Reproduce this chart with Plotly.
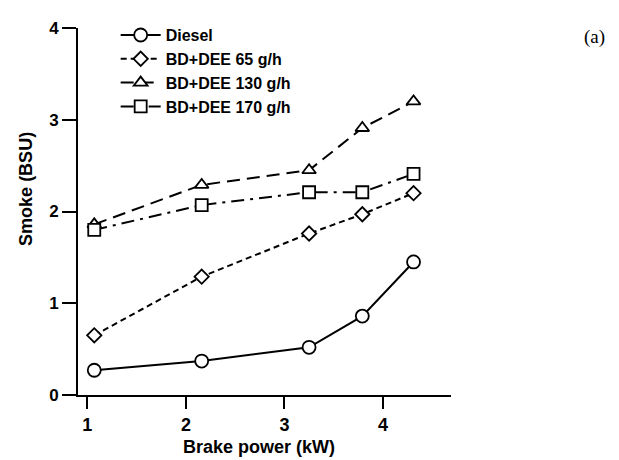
import plotly.graph_objects as go

power = [1.07, 2.16, 3.25, 3.79, 4.31]
diesel = [0.27, 0.37, 0.52, 0.86, 1.45]
dee65 = [0.65, 1.29, 1.76, 1.97, 2.20]
dee130 = [1.86, 2.29, 2.45, 2.91, 3.20]
dee170 = [1.80, 2.07, 2.21, 2.21, 2.41]

names = ["Diesel", "BD+DEE 65 g/h", "BD+DEE 130 g/h", "BD+DEE 170 g/h"]
series = [diesel, dee65, dee130, dee170]
dashes = ["solid", "6px,4px", "13px,7px", "13px,6px,3px,6px"]
symbols = ["circle", "diamond", "triangle-up", "square"]
sizes = [13, 11, 12, 12]

fig = go.Figure()
for n, s, d, sym, sz in zip(names, series, dashes, symbols, sizes):
    fig.add_trace(go.Scatter(
        x=power, y=s, name=n, mode="lines+markers",
        line=dict(color="black", width=2, dash=d),
        marker=dict(symbol=sym, size=sz, color="white",
                    line=dict(color="black", width=1.8)),
    ))

fam = "Liberation Sans, Arial"
xfont = dict(family=fam, size=18, color="black", weight="bold")
yfont = dict(family=fam, size=17, color="black", weight="bold")
fig.update_layout(
    width=611, height=452,
    margin=dict(l=70, r=168, t=10, b=65),
    paper_bgcolor="white", plot_bgcolor="white",
    showlegend=True,
    legend=dict(x=0.101, y=1.027, xanchor="left", yanchor="top",
                bgcolor="rgba(0,0,0,0)",
                font=dict(family=fam, size=16, color="black", weight="bold"),
                tracegroupgap=0, itemwidth=40),
    xaxis=dict(range=[0.905, 4.69], tickvals=[1, 2, 3, 4], showgrid=False, zeroline=False,
               showline=True, linecolor="black", linewidth=2,
               ticks="outside", ticklen=12, tickwidth=2, tickcolor="black",
               tickfont=xfont),
    yaxis=dict(range=[0, 4], tickvals=[0, 1, 2, 3, 4], showgrid=False, zeroline=False,
               showline=True, linecolor="black", linewidth=2,
               ticks="outside", ticklen=14, tickwidth=2, tickcolor="black",
               tickfont=yfont),
    annotations=[
        dict(text="Brake power (kW)", xref="paper", yref="paper", x=0.485, y=-0.141,
             xanchor="center", yanchor="middle", showarrow=False, font=xfont),
        dict(text="Smoke (BSU)", xref="paper", yref="paper", x=-0.139, y=0.562,
             xanchor="center", yanchor="middle", textangle=-90, showarrow=False, font=xfont),
        dict(text="(a)", xref="paper", yref="paper", x=1.386, y=0.976,
             xanchor="center", yanchor="middle", showarrow=False,
             font=dict(family="Liberation Serif, Times New Roman", size=19, color="black")),
    ],
)

fig.write_html("out.html")
